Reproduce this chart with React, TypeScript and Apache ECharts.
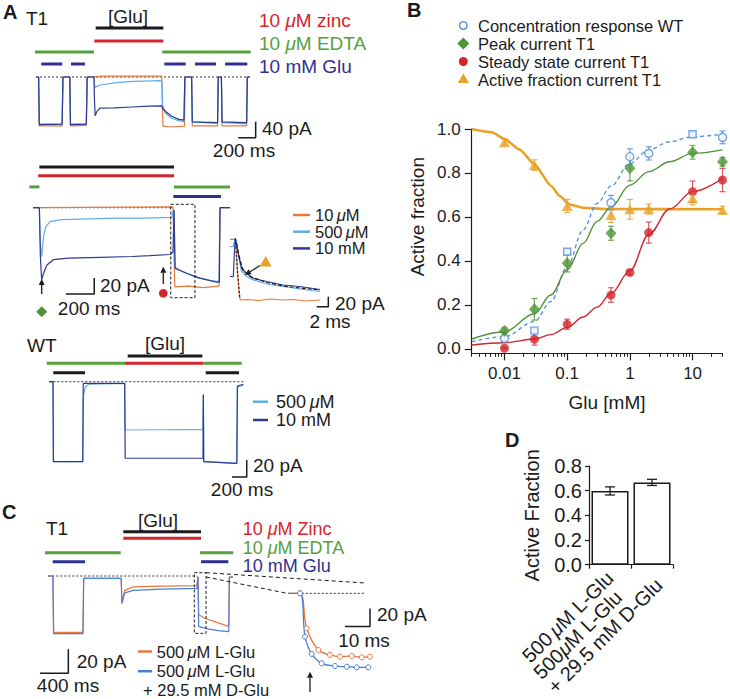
import React, { useEffect, useRef } from 'react';
import * as echarts from 'echarts';

const FONT = '"Liberation Sans", Arial, Helvetica, sans-serif';
const INK = '#1b1b1b';
const C_ORANGE = '#E8793D';
const C_LBLUE = '#62AEE6';
const C_DBLUE = '#2D3A91';
const C_MBLUE = '#4A7FD8';
const C_GREEN = '#56A13B';
const C_RED = '#D3252C';
const C_NAVY = '#2E3192';
const C_GOLD = '#E9A229';
const C_DIAM = '#4E9436';
const C_WT = '#4F8FDB';

// ---------------- Panel A top (T1), time ms / current pA
const aTopOrange = [[0,0],[30,0],[38,-122],[300,-122],[310,0],[388,0],[396,-122],[578,-121],[588,0],[666,1],[800,2],[1200,2],[1445,2],[1450,-60],[1460,-123],[1550,-125],[1706,-123],[1714,0],[1788,0],[1796,-122],[2086,-122],[2094,0],[2130,0],[2138,-122],[2420,-122],[2428,0],[2459,0]];
const aTopLight = [[0,0],[30,0],[38,-117],[300,-118],[310,0],[388,0],[396,-117],[578,-118],[588,0],[666,0],[672,-18],[678,-26],[735,-20],[927,-14],[1118,-11],[1425,-9],[1447,-10],[1455,-70],[1480,-88],[1550,-102],[1620,-108],[1700,-112],[1710,0],[1788,0],[1796,-113],[2086,-116],[2094,0],[2130,0],[2138,-114],[2420,-117],[2428,0],[2459,0]];
const aTopDark = [[0,0],[30,0],[38,-119],[300,-118],[310,0],[388,0],[396,-119],[578,-118],[588,0],[666,0],[672,-60],[680,-97],[700,-86],[735,-78],[900,-77],[1100,-75],[1300,-73],[1445,-72],[1452,-78],[1500,-88],[1560,-98],[1640,-106],[1700,-108],[1710,0],[1788,0],[1796,-112],[2086,-114],[2094,0],[2130,0],[2138,-112],[2420,-114],[2428,0],[2459,0]];
const aTopGlu = [[686,1463]];
const aTopZinc = [[670,1463]];
const aTopEdta = [[-11,666],[1451,2467]];
const aTopPulse = [[61,302],[402,563],[1474,1720],[1827,2068],[2172,2428]];

// ---------------- Panel A middle (T1 long application)
const aMidOrange = [[0,0],[990,1],[997,-60],[1003,-99],[1100,-98],[1200,-100],[1315,-98],[1322,0],[1393,0]];
const aMidLight = [[0,0],[45,0],[52,-45],[62,-61],[75,-35],[90,-24],[120,-17.5],[200,-15],[400,-14],[600,-13],[800,-13],[981,-12],[990,-5],[997,-3],[1003,-74],[1060,-80],[1150,-87],[1250,-91],[1315,-92.5],[1322,0],[1393,0]];
const aMidDark = [[0,0],[45,0],[52,-60],[61,-90],[75,-82],[97,-72],[144,-65],[250,-63],[474,-62],[700,-61],[827,-60],[969,-58.5],[990,-55],[997,-3],[1005,-76],[1087,-82],[1181,-88],[1299,-93],[1318,-93],[1322,0],[1393,0]];
const aMidGlu = [[45,997]];
const aMidZinc = [[37,997]];
const aMidEdta = [[-26,45],[997,1393]];
const aMidPulse = [[992,1329]];

// ---------------- Panel A inset (2 ms scale)
const insOrange = [[0,-2.6],[0.86,-2.6],[0.92,0],[1.2,-50],[1.61,-117],[1.8,-124],[3,-123],[5,-125],[7,-122],[9,-124],[11,-123],[13,-126],[15.5,-124]];
const insDark = [[0,-77],[0.57,-77],[0.75,-30],[0.92,0],[1.43,-31],[2.01,-61],[2.87,-71],[4.02,-81],[6.32,-87],[9.19,-94],[12.07,-97],[15.52,-103]];
const insLight = [[0,-17],[0.57,-17],[0.92,0],[1.43,-34],[2.01,-67],[2.87,-77],[4.02,-84],[6.32,-92],[9.19,-97],[12.07,-102],[15.52,-107]];
const insFit = [[1.15,-11],[1.72,-44],[2.3,-65],[3.45,-77],[6.32,-89],[9.19,-96],[12.07,-100],[15.52,-104]];
const insFitFast = [[0.95,-2],[1.3,-70],[1.7,-120]];

// ---------------- Panel A, WT
const wtLight = [[0,0],[50,0],[56,-94],[455,-94],[462,-17.6],[490,-6],[540,-3],[1025,-2],[1032,-56.8],[1500,-56.5],[2090,-56],[2095,-15.6],[2100,-94],[2550,-96],[2560,-6],[2638,-4]];
const wtDark = [[0,0],[50,0],[56,-94],[455,-94],[462,-2],[1025,-2],[1032,-90],[2090,-90],[2095,-15],[2100,-94],[2550,-96],[2558,-5],[2638,-3]];
const wtGlu = [[1066,2081]];
const wtZinc = [[1030,2095]];
const wtEdta = [[-35,1030],[2095,2617]];
const wtPulse = [[54,486],[2127,2580]];

// ---------------- Panel C
const cOrange = [[0,0],[65,0],[75,-47],[490,-47],[500,-2],[1030,-2],[1040,-22],[1080,-12],[1200,-9],[1600,-8.5],[2100,-8],[2115,-0.5],[2125,-32],[2200,-35],[2350,-38],[2550,-42],[2558,-1],[2610,-1]];
const cBlue = [[0,0],[65,0],[75,-48],[490,-48],[500,-2],[1030,-2],[1040,-23],[1080,-14],[1200,-12],[1600,-11],[2100,-10.3],[2115,-0.5],[2125,-42],[2250,-44],[2400,-45.5],[2550,-46.4],[2558,-1],[2610,-1]];
const cGlu = [[1060,2158]];
const cZinc = [[1060,2158]];
const cEdta = [[-47,1023],[2144,2614]];
const cPulse = [[62,519],[2158,2544]];
const cInsOrange = [[0,0],[4.8,0],[7.48,-38.9],[12.12,-63],[16.8,-68.5],[20.8,-70.4],[25.48,-69.6],[29.48,-71.1],[32.8,-70.4]];
const cInsBlue = [[0,0],[4.8,0],[6.8,-48.2],[9.48,-67.4],[13.48,-77.8],[18.8,-80.8],[23.48,-81.6],[27.48,-82.2],[32.12,-82.2]];

// ---------------- Panel B (concentration response)
const gluConc = [0.01, 0.03, 0.1, 0.5, 1, 2, 10, 30];
const wtMean = [0.048, 0.083, 0.442, 0.665, 0.874, 0.889, 0.976, 0.962];
const wtErr = [0.012, 0.008, 0.008, 0.033, 0.036, 0.03, 0.008, 0.029];
const wtShape = ['c', 's', 's', 'c', 'c', 'c', 's', 'c'];
const peakConc = [0.01, 0.03, 0.1, 0.5, 1, 10, 30];
const peakMean = [0.083, 0.18, 0.39, 0.526, 0.821, 0.894, 0.851];
const peakErr = [0.012, 0.049, 0.04, 0.032, 0.057, 0.031, 0.02];
const ssMean = [0.003, 0.044, 0.112, 0.245, 0.348, 0.529, 0.715, 0.768];
const ssErr = [0.004, 0.027, 0.023, 0.033, 0.01, 0.048, 0.048, 0.053];
const afMean = [0.94, 0.836, 0.65, 0.609, 0.635, 0.636, 0.685, 0.632];
const afErr = [0.014, 0.024, 0.03, 0.034, 0.045, 0.023, 0.03, 0.017];
const fitConc = [0.003, 0.01, 0.03, 0.055, 0.1, 0.18, 0.3, 0.5, 1, 2, 4.3, 10, 30];
const wtFit = [0.033, 0.056, 0.124, 0.215, 0.374, 0.541, 0.662, 0.74, 0.844, 0.905, 0.942, 0.965, 0.976];
const peakFit = [0.045, 0.078, 0.16, 0.245, 0.36, 0.48, 0.58, 0.645, 0.745, 0.806, 0.851, 0.889, 0.905];
const ssFit = [0.018, 0.028, 0.045, 0.065, 0.098, 0.145, 0.19, 0.252, 0.355, 0.52, 0.636, 0.715, 0.775];
const afFitConc = [0.003, 0.0063, 0.01, 0.0174, 0.03, 0.0555, 0.0759, 0.109, 0.178, 0.4, 30];
const afFit = [1.0, 0.985, 0.955, 0.907, 0.839, 0.741, 0.695, 0.657, 0.642, 0.636, 0.635];
const bYTicks = [0, 0.2, 0.4, 0.6, 0.8, 1.0];
const bXMajor = [0.01, 0.1, 1, 10];
const bXMinor = [0.003,0.004,0.005,0.006,0.007,0.008,0.009,0.02,0.03,0.04,0.05,0.06,0.07,0.08,0.09,0.2,0.3,0.4,0.5,0.6,0.7,0.8,0.9,2,3,4,5,6,7,8,9,20,30];

// ---------------- Panel D
const dCats = ['500\u2009μM L-Glu', '500μM L-Glu\n+ 29.5 mM D-Glu'];
const dMean = [0.598, 0.667];
const dErr = [0.033, 0.025];

// ---------------- layout (pixel geometry of trace panels)
const LAY: Record<string, number[]> = {
  // x0, y0, ms/px, pA/px, xmin, xmax, ymin, ymax
  aTop: [36, 77, 11.49, 2.5, -50, 2600, -160, 140],
  aMid: [33, 207.7, 7.07, 1.25, -50, 1450, -115, 60],
  aIns: [230, 238, 0.1724, 2, -0.5, 20, -150, 20],
  wt: [49.3, 381.7, 13.6, 1.176, -60, 2750, -120, 40],
  c: [48.3, 576, 14.13, 0.833, -150, 2700, -90, 50],
  cIns: [288, 593.3, 0.4, 1.111, -2, 36, -90, 5],
};
const TRACE_KEYS = ['aTop', 'aMid', 'aIns', 'wt', 'c', 'cIns'];

const lg = (v: number) => Math.log10(v);

function trace(idx: number, data: any[], color: string, width = 1.2, extra: any = {}) {
  return { type: 'line', xAxisIndex: idx, yAxisIndex: idx, data, symbol: 'none', showSymbol: false,
    lineStyle: { color, width }, clip: false, silent: true, z: 3, ...extra };
}
function segs(idx: number, list: number[][], level: number, color: string, width = 3) {
  return { type: 'custom', xAxisIndex: idx, yAxisIndex: idx, data: list, silent: true, z: 2,
    encode: { x: [0, 1] },
    renderItem: (_p: any, api: any) => {
      const a = api.coord([api.value(0), level]);
      const b = api.coord([api.value(1), level]);
      return { type: 'line', shape: { x1: a[0], y1: a[1], x2: b[0], y2: b[1] }, style: { stroke: color, lineWidth: width } };
    } };
}
function box(idx: number, t1: number, t2: number, i1: number, i2: number) {
  return { type: 'custom', xAxisIndex: idx, yAxisIndex: idx, data: [[t1, t2, i1, i2]], silent: true, z: 4,
    encode: { x: [0, 1], y: [2, 3] },
    renderItem: (_p: any, api: any) => {
      const a = api.coord([api.value(0), api.value(2)]);
      const b = api.coord([api.value(1), api.value(3)]);
      return { type: 'rect', shape: { x: a[0], y: a[1], width: b[0] - a[0], height: b[1] - a[1] },
        style: { fill: 'none', stroke: INK, lineWidth: 1, lineDash: [3, 2] } };
    } };
}
function baseline(idx: number, t1: number, t2: number) {
  return trace(idx, [[t1, 0], [t2, 0]], '#333', 1, { lineStyle: { color: '#333', width: 1, type: [2, 2] }, z: 1 });
}
function errBars(xIdx: number, yIdx: number, data: number[][], color: string, cap: number, width = 1.2) {
  return { type: 'custom', xAxisIndex: xIdx, yAxisIndex: yIdx, data, silent: true, z: 3,
    encode: { x: 0, y: [1, 2] },
    renderItem: (_p: any, api: any) => {
      const x = api.value(0);
      const a = api.coord([x, api.value(1)]);
      const b = api.coord([x, api.value(2)]);
      const st = { stroke: color, lineWidth: width };
      return { type: 'group', children: [
        { type: 'line', shape: { x1: a[0], y1: a[1], x2: b[0], y2: b[1] }, style: st },
        { type: 'line', shape: { x1: a[0] - cap, y1: a[1], x2: a[0] + cap, y2: a[1] }, style: st },
        { type: 'line', shape: { x1: b[0] - cap, y1: b[1], x2: b[0] + cap, y2: b[1] }, style: st },
      ] };
    } };
}

function txt(x: number, y: number, text: string, o: any = {}) {
  const size = o.fontSize || 19;
  const fill = o.fill || INK;
  const hasMu = text.indexOf('μ') >= 0;
  const style: any = { text: hasMu ? text.replace(/μ/g, '{i|μ}') : text, fontSize: size, fontFamily: FONT,
    fill, align: 'left', verticalAlign: 'middle', ...o };
  if (hasMu) style.rich = { i: { fontStyle: 'italic', fontSize: size, fontFamily: FONT, fill } };
  return { type: 'text', x, y, silent: true, z: 20, style };
}
function arrow(x1: number, y1: number, x2: number, y2: number) {
  const ang = Math.atan2(y2 - y1, x2 - x1);
  const L = 6, W = 3;
  const bx = x2 - L * Math.cos(ang), by = y2 - L * Math.sin(ang);
  const px = -Math.sin(ang) * W, py = Math.cos(ang) * W;
  return [
    { type: 'line', silent: true, z: 20, shape: { x1, y1, x2: bx, y2: by }, style: { stroke: INK, lineWidth: 1.3 } },
    { type: 'polygon', silent: true, z: 20, shape: { points: [[x2, y2], [bx + px, by + py], [bx - px, by - py]] }, style: { fill: INK } },
  ];
}
function hline(x1: number, y1: number, x2: number, y2: number, color: string, width = 2.5, dash?: number[]) {
  return { type: 'line', silent: true, z: 20, shape: { x1, y1, x2, y2 }, style: { stroke: color, lineWidth: width, lineDash: dash } };
}
function diamond(x: number, y: number, r: number, color: string) {
  return { type: 'polygon', silent: true, z: 20, shape: { points: [[x, y - r], [x + r, y], [x, y + r], [x - r, y]] }, style: { fill: color } };
}
function tri(x: number, y: number, r: number, color: string) {
  return { type: 'polygon', silent: true, z: 20, shape: { points: [[x, y - r], [x + r, y + r * 0.75], [x - r, y + r * 0.75]] }, style: { fill: color } };
}

function buildOption() {
  const grid: any[] = [];
  const xAxis: any[] = [];
  const yAxis: any[] = [];
  TRACE_KEYS.forEach((k, i) => {
    const [x0, y0, mx, py, xmin, xmax, ymin, ymax] = LAY[k];
    grid.push({ left: x0 + xmin / mx, top: y0 - ymax / py, width: (xmax - xmin) / mx, height: (ymax - ymin) / py });
    xAxis.push({ type: 'value', gridIndex: i, min: xmin, max: xmax, show: false });
    yAxis.push({ type: 'value', gridIndex: i, min: ymin, max: ymax, show: false });
  });
  // B grid (index 6)
  grid.push({ left: 471.7, top: 129, width: 250.8, height: 224.3 });
  // D grid (index 7)
  grid.push({ left: 589, top: 466, width: 84, height: 105.7 });
  const axLine = { show: true, onZero: false, lineStyle: { color: INK, width: 1.2 } };
  xAxis.push({ type: 'value', gridIndex: 6, min: lg(0.003), max: lg(30), position: 'bottom',
    axisLine: axLine, splitLine: { show: false },
    axisTick: { show: true, length: 7, customValues: bXMajor.map(lg), lineStyle: { color: INK, width: 1.2 } },
    axisLabel: { customValues: bXMajor.map(lg), fontSize: 17, fontFamily: FONT, color: INK, margin: 12,
      formatter: (v: number) => String(+Math.pow(10, v).toPrecision(1)) } });
  xAxis.push({ type: 'category', gridIndex: 7, data: dCats, axisLine: axLine,
    axisTick: { show: true, length: 4, lineStyle: { color: INK, width: 1.2 } },
    axisLabel: { interval: 0, rotate: 45, margin: 10, fontSize: 20, fontFamily: FONT, color: INK,
      formatter: (v: string) => v.split('\n').map((l) => '{a|' + l.replace('μ', '}{i|μ}{a|') + '}').join('\n'),
      rich: { a: { fontSize: 20, fontFamily: FONT, color: INK, align: 'left' }, i: { fontSize: 20, fontFamily: FONT, color: INK, fontStyle: 'italic', align: 'left' } } } });
  xAxis.push({ type: 'value', gridIndex: 6, min: lg(0.003), max: lg(30), position: 'bottom',
    axisLine: { show: false, onZero: false }, splitLine: { show: false }, axisLabel: { show: false },
    axisTick: { show: true, length: 3.5, customValues: bXMinor.map(lg), lineStyle: { color: INK, width: 1 } } });
  yAxis.push({ type: 'value', gridIndex: 6, min: -0.02, max: 1.0, axisLine: axLine, splitLine: { show: false },
    axisTick: { show: true, length: 7, customValues: bYTicks, lineStyle: { color: INK, width: 1.2 } },
    axisLabel: { customValues: bYTicks, fontSize: 17, fontFamily: FONT, color: INK, margin: 11, formatter: (v: number) => v.toFixed(1) } });
  yAxis.push({ type: 'value', gridIndex: 7, min: 0, max: 0.8, interval: 0.2, axisLine: axLine, splitLine: { show: false },
    axisTick: { show: true, length: 4, lineStyle: { color: INK, width: 1.2 } },
    axisLabel: { fontSize: 20, fontFamily: FONT, color: INK, margin: 7, formatter: (v: number) => v.toFixed(1) },
    name: 'Active Fraction', nameLocation: 'middle', nameGap: 47, nameTextStyle: { fontSize: 20, fontFamily: FONT, color: INK } });

  const series: any[] = [];
  // A top
  series.push(segs(0, aTopGlu, 122.5, INK), segs(0, aTopZinc, 90, C_RED), segs(0, aTopEdta, 62.5, C_GREEN), segs(0, aTopPulse, 32.5, C_NAVY));
  series.push(baseline(0, 0, 2459));
  series.push(trace(0, aTopOrange, C_ORANGE), trace(0, aTopLight, C_LBLUE), trace(0, aTopDark, C_DBLUE));
  series.push(trace(0, [[2324, -152], [2524, -152], [2524, -112]], INK, 1.5));
  // A middle
  series.push(segs(1, aMidGlu, 51, INK), segs(1, aMidZinc, 40, C_RED), segs(1, aMidEdta, 26, C_GREEN), segs(1, aMidPulse, 14, C_NAVY));
  series.push(baseline(1, 0, 975));
  series.push(trace(1, aMidOrange, C_ORANGE), trace(1, aMidLight, C_LBLUE), trace(1, aMidDark, C_DBLUE));
  series.push(box(1, 974, 1145, 4.25, -112.5));
  series.push(trace(1, [[233, -108], [433, -108], [433, -88]], INK, 1.5));
  // A inset
  series.push(trace(2, insOrange, C_ORANGE), trace(2, insLight, C_LBLUE), trace(2, insDark, C_DBLUE));
  series.push(trace(2, insFit, INK, 1.2, { lineStyle: { color: INK, width: 1.2, type: [4, 2] }, z: 4 }));
  series.push(trace(2, insFitFast, INK, 1.2, { lineStyle: { color: INK, width: 1.2, type: [2, 2] }, z: 4 }));
  series.push(trace(2, [[14.95, -137.4], [16.95, -137.4], [16.95, -117.4]], INK, 1.5));
  // WT
  series.push(segs(3, wtGlu, 30.2, INK), segs(3, wtZinc, 21.6, C_RED), segs(3, wtEdta, 21.6, C_GREEN), segs(3, wtPulse, 10.6, INK));
  series.push(baseline(3, 0, 2638));
  series.push(trace(3, wtLight, C_LBLUE), trace(3, wtDark, C_DBLUE));
  series.push(trace(3, [[2485, -112], [2685, -112], [2685, -92]], INK, 1.5));
  // C
  series.push(segs(4, cGlu, 36.9, INK), segs(4, cZinc, 31.4, C_RED), segs(4, cEdta, 19.4, C_GREEN), segs(4, cPulse, 11.9, C_NAVY));
  series.push(baseline(4, 0, 2097));
  series.push(trace(4, cOrange, C_ORANGE), trace(4, cBlue, C_MBLUE));
  series.push(box(4, 2063, 2229, 2.75, -47.75));
  series.push(trace(4, [[-117, -81], [283, -81], [283, -61]], INK, 1.5));
  // C inset
  series.push(baseline(5, 5.5, 31));
  const sym = (arr: number[][]) => arr.map((p, i) => (i === 0 ? { value: p, symbol: 'none' } : { value: p }));
  series.push(trace(5, sym(cInsOrange), C_ORANGE, 1.3, { symbol: 'circle', showSymbol: true, symbolSize: 5, smooth: 0.35,
    itemStyle: { color: '#fff', borderColor: C_ORANGE, borderWidth: 1 } }));
  series.push(trace(5, sym(cInsBlue), C_MBLUE, 1.3, { symbol: 'circle', showSymbol: true, symbolSize: 5, smooth: 0.35,
    itemStyle: { color: '#fff', borderColor: C_MBLUE, borderWidth: 1 } }));
  series.push(trace(5, [[22.8, -37], [32.8, -37], [32.8, -17]], INK, 1.5));

  // B fits
  const fit = (xs: number[], ys: number[]) => xs.map((c, i) => [lg(c), ys[i]]);
  const bLine = (data: any[], color: string, width: number, type: any = 'solid', smooth = 0.35) => ({ type: 'line', xAxisIndex: 6, yAxisIndex: 6, data,
    symbol: 'none', smooth, smoothMonotone: 'x', silent: true, z: 2, lineStyle: { color, width, type } });
  series.push(bLine(fit(afFitConc, afFit), C_GOLD, 2.6, 'solid', 0.2));
  series.push(bLine(fit(fitConc, wtFit), C_WT, 1.3, [4, 3]));
  series.push(bLine(fit(fitConc, peakFit), C_DIAM, 1.4));
  series.push(bLine(fit(fitConc, ssFit), C_RED, 1.4));
  const eb = (xs: number[], m: number[], e: number[]) => xs.map((c, i) => [lg(c), m[i] - e[i], m[i] + e[i]]);
  series.push(errBars(6, 6, eb(gluConc, wtMean, wtErr), 'rgba(79,143,219,0.85)', 3));
  series.push(errBars(6, 6, eb(peakConc, peakMean, peakErr), 'rgba(78,148,54,0.8)', 3));
  series.push(errBars(6, 6, eb(gluConc, ssMean, ssErr), 'rgba(211,37,44,0.75)', 3));
  series.push(errBars(6, 6, eb(gluConc, afMean, afErr), 'rgba(233,162,41,0.85)', 3));
  const pts = (xs: number[], m: number[]) => xs.map((c, i) => [lg(c), m[i]]);
  series.push({ type: 'scatter', name: 'Concentration response WT', xAxisIndex: 6, yAxisIndex: 6, z: 5, silent: true,
    data: gluConc.map((c, i) => ({ value: [lg(c), wtMean[i]], symbol: wtShape[i] === 's' ? 'rect' : 'circle', symbolSize: wtShape[i] === 's' ? 7 : 8 })),
    itemStyle: { color: '#fff', borderColor: C_WT, borderWidth: 1.4 } });
  series.push({ type: 'scatter', name: 'Peak current T1', xAxisIndex: 6, yAxisIndex: 6, z: 5, silent: true,
    data: pts(peakConc, peakMean), symbol: 'diamond', symbolSize: [11, 12], itemStyle: { color: C_DIAM } });
  series.push({ type: 'scatter', name: 'Steady state current T1', xAxisIndex: 6, yAxisIndex: 6, z: 5, silent: true,
    data: pts(gluConc, ssMean), symbol: 'circle', symbolSize: 9, itemStyle: { color: C_RED } });
  series.push({ type: 'scatter', name: 'Active fraction current T1', xAxisIndex: 6, yAxisIndex: 6, z: 5, silent: true,
    data: pts(gluConc, afMean), symbol: 'triangle', symbolSize: [11, 10], itemStyle: { color: C_GOLD } });

  // D
  series.push({ type: 'bar', xAxisIndex: 7, yAxisIndex: 7, data: dMean, barWidth: 37, silent: true, z: 2,
    itemStyle: { color: '#fff', borderColor: INK, borderWidth: 1.5 } });
  series.push(errBars(7, 7, dMean.map((m, i) => [i, m - dErr[i], m + dErr[i]]), INK, 5, 1.3));

  const graphic: any[] = [];
  // panel letters
  graphic.push(txt(3, 12, 'A', { fontSize: 20, fontWeight: 'bold' }));
  graphic.push(txt(407, 10, 'B', { fontSize: 20, fontWeight: 'bold' }));
  graphic.push(txt(2, 512, 'C', { fontSize: 20, fontWeight: 'bold' }));
  graphic.push(txt(505, 440, 'D', { fontSize: 20, fontWeight: 'bold' }));
  // A top
  graphic.push(txt(26, 18, 'T1'));
  graphic.push(txt(128, 16, '[Glu]', { align: 'center' }));
  graphic.push(txt(259, 20, '10 μM zinc', { fill: C_RED }));
  graphic.push(txt(259, 43, '10 μM EDTA', { fill: C_GREEN }));
  graphic.push(txt(259, 66, '10 mM Glu', { fill: C_NAVY }));
  graphic.push(txt(262, 128, '40 pA'));
  graphic.push(txt(244, 150, '200 ms', { align: 'center' }));
  // A middle
  graphic.push(txt(100, 285.7, '20 pA'));
  graphic.push(txt(89, 308, '200 ms', { align: 'center' }));
  graphic.push(hline(293, 215, 310, 215, C_ORANGE), hline(293, 231.7, 310, 231.7, C_LBLUE), hline(293, 248.4, 310, 248.4, C_DBLUE));
  graphic.push(txt(315, 215, '10\u2009μM', { fontSize: 16.5 }), txt(315, 231.7, '500\u2009μM', { fontSize: 16.5 }), txt(315, 248.4, '10 mM', { fontSize: 16.5 }));
  graphic.push(...arrow(41.7, 294, 41.7, 279));
  graphic.push(diamond(41.7, 311.7, 5.5, C_DIAM));
  graphic.push(...arrow(163.3, 284, 163.3, 266.7));
  graphic.push({ type: 'circle', silent: true, z: 20, shape: { cx: 163.3, cy: 293.3, r: 4.3 }, style: { fill: C_RED } });
  graphic.push(...arrow(260, 265.5, 245, 275));
  graphic.push(tri(265.7, 262, 6, C_GOLD));
  graphic.push(txt(335, 303, '20 pA'));
  graphic.push(txt(330, 321.7, '2 ms', { align: 'center' }));
  // WT
  graphic.push(txt(27, 345, 'WT'));
  graphic.push(txt(165, 343, '[Glu]', { align: 'center' }));
  graphic.push(hline(253, 401.7, 268, 401.7, C_LBLUE), hline(253, 420, 268, 420, C_DBLUE));
  graphic.push(txt(276, 401.7, '500\u2009μM', { fontSize: 18 }), txt(276, 420, '10 mM', { fontSize: 18 }));
  graphic.push(txt(253, 465, '20 pA'));
  graphic.push(txt(242, 489, '200 ms', { align: 'center' }));
  // C
  graphic.push(txt(46, 528, 'T1'));
  graphic.push(txt(158, 520, '[Glu]', { align: 'center' }));
  graphic.push(txt(242.7, 529.3, '10 μM Zinc', { fill: C_RED, fontSize: 18 }));
  graphic.push(txt(242.7, 547.6, '10 μM EDTA', { fill: C_GREEN, fontSize: 18 }));
  graphic.push(txt(242.7, 565.9, '10 mM Glu', { fill: C_NAVY, fontSize: 18 }));
  graphic.push(hline(206, 572.7, 365, 583, INK, 1, [4, 3]));
  graphic.push(hline(206, 577, 287, 593.3, INK, 1, [4, 3]));
  graphic.push(hline(138, 651.5, 152, 651.5, C_ORANGE), hline(138, 671.2, 152, 671.2, C_MBLUE));
  graphic.push(txt(156.7, 651.5, '500\u2009μM L-Glu', { fontSize: 16.5 }), txt(156.7, 671.2, '500\u2009μM L-Glu', { fontSize: 16.5 }),
    txt(143, 689.5, '+ 29.5 mM D-Glu', { fontSize: 16.5 }));
  graphic.push(txt(76.7, 661.7, '20 pA'));
  graphic.push(txt(68, 685, '400 ms', { align: 'center' }));
  graphic.push(...arrow(310, 692, 310, 671.7));
  graphic.push(txt(377, 614, '20 pA'));
  graphic.push(txt(364, 640, '10 ms', { align: 'center' }));
  // B labels & legend
  graphic.push(txt(417, 216.7, 'Active fraction', { align: 'center' }));
  graphic[graphic.length - 1].rotation = Math.PI / 2;
  graphic.push(txt(607, 402, 'Glu [mM]', { align: 'center' }));
  graphic.push({ type: 'circle', silent: true, z: 20, shape: { cx: 463.3, cy: 25.5, r: 3.8 }, style: { fill: '#fff', stroke: C_WT, lineWidth: 1.4 } });
  graphic.push(diamond(463.3, 43.5, 6, C_DIAM));
  graphic.push({ type: 'circle', silent: true, z: 20, shape: { cx: 463.3, cy: 61.5, r: 4.5 }, style: { fill: C_RED } });
  graphic.push(tri(463.3, 78.8, 5.5, C_GOLD));
  graphic.push(txt(478, 25.5, 'Concentration response WT', { fontSize: 16.5 }));
  graphic.push(txt(478, 43.5, 'Peak current T1', { fontSize: 16.5 }));
  graphic.push(txt(478, 61.5, 'Steady state current T1', { fontSize: 16.5 }));
  graphic.push(txt(478, 79.5, 'Active fraction current T1', { fontSize: 16.5 }));

  return { animation: false, backgroundColor: '#fff', grid, xAxis, yAxis, series, graphic };
}

export default function App() {
  const ref = useRef<HTMLDivElement>(null);
  useEffect(() => {
    document.body.style.margin = '0';
    const chart = echarts.init(ref.current!, null, { renderer: 'svg' });
    chart.setOption(buildOption() as any);
    return () => chart.dispose();
  }, []);
  return <div ref={ref} style={{ width: 730, height: 699 }} />;
}
